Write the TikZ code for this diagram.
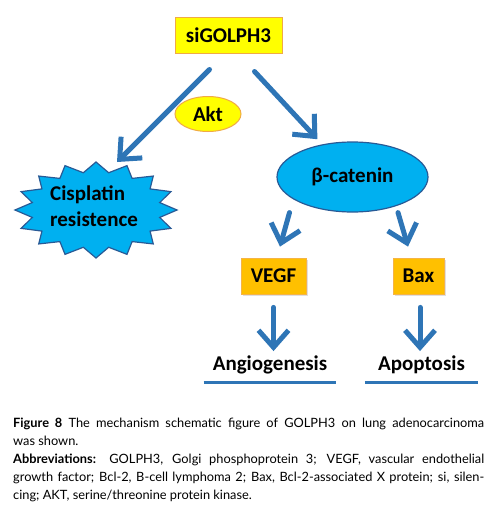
\documentclass[tikz,border=0pt]{standalone}
\usepackage{fontspec}
\setmainfont{Carlito}
\newfontfamily\capfont{Lato}
\usepackage{tikz}
\usetikzlibrary{shapes.geometric, arrows.meta, positioning, shadows}
\definecolor{arrowblue}{RGB}{46,117,182}
\definecolor{cyanfill}{RGB}{0,176,240}
\definecolor{darkline}{RGB}{40,90,150}
\definecolor{goldfill}{RGB}{255,192,0}
\definecolor{goldline}{RGB}{245,180,70}
\definecolor{lemon}{RGB}{255,255,0}
\definecolor{lemonline}{RGB}{240,170,70}
\tikzstyle{bigfont} = [font=\fontsize{21}{26}\selectfont\bfseries]
\tikzstyle{yellowbox} = [rectangle, bigfont, fill=lemon, draw=lemonline,
line width=1pt, inner sep=0pt]
\tikzstyle{goldbox} = [rectangle, bigfont, fill=goldfill, draw=goldline,
line width=0.8pt, minimum height=36pt, inner sep=0pt,
drop shadow={opacity=0.25, shadow xshift=1.5pt, shadow yshift=-1.5pt}]
\tikzstyle{blueoval} = [ellipse, bigfont, fill=cyanfill, draw=darkline,
line width=1.2pt, inner sep=0pt]
\tikzstyle{arrow} = [line width=5pt, draw=arrowblue, line cap=round, line join=round,
-{Straight Barb[length=17pt,width=30pt]}]
\tikzstyle{uline} = [line width=3pt, draw=arrowblue]

\begin{document}
\begin{tikzpicture}[x=1pt, y=-1pt]
        \fill[white] (0,0) rectangle (497,522);
        \useasboundingbox (0,0) rectangle (497,522);

        % Cajas superiores
        \node[yellowbox, minimum width=107pt, minimum height=36pt] (golph) at (228.5,35) {siGOLPH3};
        \node[ellipse, bigfont, fill=lemon, draw=lemonline, line width=1pt,
        minimum width=66pt, minimum height=35pt, inner sep=0pt] (akt) at (208,114) {Akt};

        % Estrella de cisplatino (16 puntas)
        \begin{scope}[shift={(96,210)}]
        \draw[fill=cyanfill, draw=darkline, line width=1.2pt, line join=miter]
        (0:81 and 48) \foreach \k in {1,...,16} {
          -- ({\k*22.5-11.25}:65 and 38) -- ({\k*22.5}:81 and 48)} -- cycle;
        \end{scope}
        \node[bigfont, align=left, anchor=base west, inner sep=0pt] (cis) at (50,226) {Cisplatin\\resistence};
        \coordinate (cisin) at (117,162);

        % Beta-catenina y sus dianas
        \node[blueoval, minimum width=151pt, minimum height=70pt] (cat) at (352.5,177) {β-catenin};
        \node[goldbox, minimum width=65pt] (vegf) at (273.5,276) {VEGF};
        \node[goldbox, minimum width=51pt] (bax) at (418.5,276) {Bax};

        % Resultados subrayados
        \node[bigfont, anchor=base, inner ysep=0pt, inner xsep=9pt] (ang) at (270,370) {Angiogenesis};
        \node[bigfont, anchor=base, inner ysep=0pt, inner xsep=13pt] (apo) at (421.5,370) {Apoptosis};
        \draw[uline] ([yshift=-12pt]ang.base west) -- ([yshift=-12pt]ang.base east);
        \draw[uline] ([yshift=-12pt]apo.base west) -- ([yshift=-12pt]apo.base east);

        % Flechas
        \draw[arrow] ([xshift=-19pt,yshift=-16pt]golph.south) -- (cisin);
        \draw[arrow, shorten >=7pt] ([xshift=26pt,yshift=-18pt]golph.south) -- (cat);
        \draw[arrow] ([xshift=-63pt]cat.south) -- ([xshift=6.5pt,yshift=11pt]vegf.north);
        \draw[arrow] ([xshift=45.5pt]cat.south) -- ([xshift=-10.5pt,yshift=11pt]bax.north);
        \draw[arrow, shorten <=13pt, shorten >=4pt] (vegf.south) -- (vegf.south |- ang.north);
        \draw[arrow, shorten <=13pt, shorten >=4pt] ([xshift=1.5pt]bax.south) -- ([xshift=1.5pt]bax.south |- apo.north);

        % Leyenda de la figura
        \node[anchor=base west, inner sep=0pt, text width=471pt, align=justify,
        font=\capfont\fontsize{12.8}{18}\selectfont] (caption) at (13,427)
        {\textbf{Figure 8} The mechanism schematic figure of GOLPH3 on lung adenocarcinoma\linebreak
        was shown.\\
        \textbf{Abbreviations:} GOLPH3, Golgi phosphoprotein 3; VEGF, vascular endothelial\linebreak
        growth factor; Bcl-2, B-cell lymphoma 2; Bax, Bcl-2-associated X protein; si, silen-\linebreak
        cing; AKT, serine/threonine protein kinase.};

    \end{tikzpicture}
\end{document}
